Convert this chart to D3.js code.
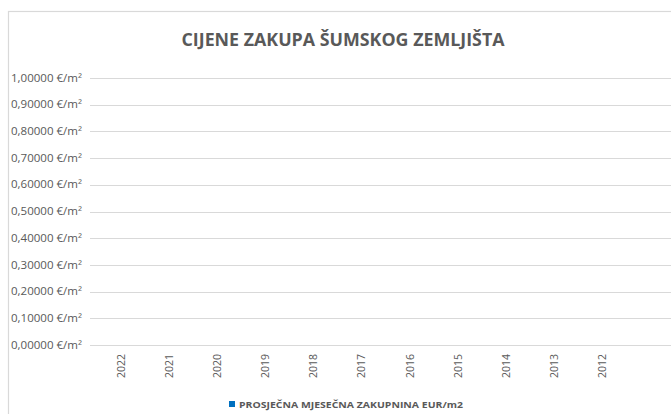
<!DOCTYPE html>
<html>
<head>
<meta charset="utf-8">
<script src="https://cdn.jsdelivr.net/npm/d3@7"></script>
<style>
  html, body { margin: 0; padding: 0; background: #fff; }
  svg { display: block; font-family: "Open Sans", "Noto Sans", sans-serif; }
</style>
</head>
<body>
<svg id="chart" width="671" height="414"></svg>
<script>
// Categories (years) and the monthly lease values per year
const years = ["2022", "2021", "2020", "2019", "2018", "2017", "2016", "2015", "2014", "2013", "2012", ""];
const leaseValues = [0, 0, 0, 0, 0, 0, 0, 0, 0, 0, 0, 0];
const yTicks = [0, 0.1, 0.2, 0.3, 0.4, 0.5, 0.6, 0.7, 0.8, 0.9, 1.0];
const titleText = "CIJENE ZAKUPA ŠUMSKOG ZEMLJIŠTA";
const seriesName = "PROSJEČNA MJESEČNA ZAKUPNINA EUR/m2";

const svg = d3.select("#chart");
const textColor = "#595959";
const gridColor = "#d9d9d9";
const barColor = "#0070c0";

// Outer frame of the chart area
svg.append("rect")
  .attr("x", 8.5).attr("y", 11.5)
  .attr("width", 700).attr("height", 440)
  .attr("fill", "#fff")
  .attr("stroke", gridColor).attr("stroke-width", 1.2);

const x = d3.scaleBand().domain(years).range([90.4, 681.6]).padding(0.3);
const y = d3.scaleLinear().domain([0, 1]).range([345, 78]);

// Gridlines
svg.append("g")
  .selectAll("line")
  .data(yTicks)
  .join("line")
  .attr("x1", 90).attr("x2", 682)
  .attr("y1", d => Math.round(y(d)) + 0.5)
  .attr("y2", d => Math.round(y(d)) + 0.5)
  .attr("stroke", gridColor).attr("stroke-width", 1);

// Value axis labels
const fmt = d => d.toFixed(5).replace(".", ",") + " €/m²";
svg.append("g")
  .selectAll("text")
  .data(yTicks)
  .join("text")
  .attr("x", 82)
  .attr("y", d => y(d))
  .attr("dy", "0.35em")
  .attr("text-anchor", "end")
  .attr("font-size", 10.5)
  .attr("fill", textColor)
  .attr("textLength", 71)
  .attr("lengthAdjust", "spacingAndGlyphs")
  .text(fmt);

// Bars
svg.append("g")
  .selectAll("rect")
  .data(years.map((c, i) => ({ c, v: leaseValues[i] })))
  .join("rect")
  .attr("x", d => x(d.c))
  .attr("width", x.bandwidth())
  .attr("y", d => y(d.v))
  .attr("height", d => y(0) - y(d.v))
  .attr("fill", barColor);

// Category labels, rotated
svg.append("g")
  .selectAll("text")
  .data(years)
  .join("text")
  .attr("transform", d => `translate(${x(d) + x.bandwidth() / 2 + 3.5},354) rotate(-90)`)
  .attr("text-anchor", "end")
  .attr("font-size", 10.5)
  .attr("fill", textColor)
  .text(d => d);

// Title
svg.append("text")
  .attr("x", 343).attr("y", 46)
  .attr("text-anchor", "middle")
  .attr("font-size", 17)
  .attr("font-weight", "bold")
  .attr("fill", textColor)
  .attr("textLength", 323)
  .attr("lengthAdjust", "spacingAndGlyphs")
  .text(titleText);

// Legend
const legend = svg.append("g");
legend.append("rect")
  .attr("x", 229).attr("y", 401)
  .attr("width", 6).attr("height", 6)
  .attr("fill", barColor);
legend.append("text")
  .attr("x", 239).attr("y", 407.5)
  .attr("font-size", 8.6)
  .attr("font-weight", "bold")
  .attr("fill", textColor)
  .attr("textLength", 224)
  .attr("lengthAdjust", "spacingAndGlyphs")
  .text(seriesName);
</script>
</body>
</html>
